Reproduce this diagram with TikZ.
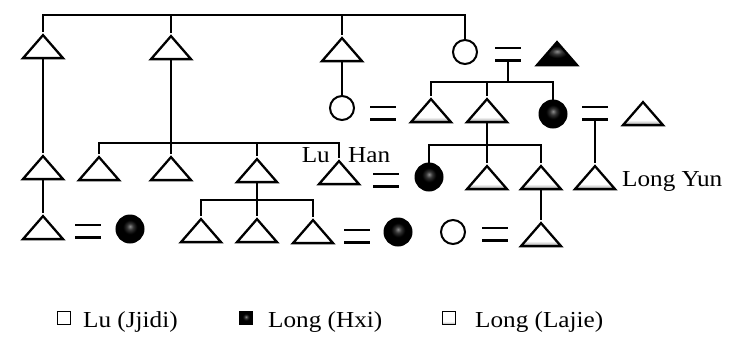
\documentclass[tikz,border=0pt]{standalone}
\usepackage{fontspec}
\setmainfont{Liberation Serif}[FakeStretch=1.1]
\usetikzlibrary{shapes.geometric}
\pgfdeclareradialshading{hxishade}{\pgfpoint{0bp}{5bp}}{color(0bp)=(black!45); color(6bp)=(black!80); color(13bp)=(black); color(50bp)=(black)}
\pgfdeclareverticalshading{lajieshade}{100bp}{color(0bp)=(black!40); color(25bp)=(black!40); color(36bp)=(white); color(100bp)=(white)}
\begin{document}
\begin{tikzpicture}[x=1bp,y=-1bp,
  tri/.style={isosceles triangle, isosceles triangle stretches, shape border rotate=90,
    minimum width=40bp, minimum height=23bp, inner sep=0pt, draw, line width=2.3bp, fill=white},
  circ/.style={circle, draw, line width=2bp, minimum size=24bp, inner sep=0pt, fill=white},
  fcirc/.style={circ, minimum size=27bp, hxi},
  hxi/.style={shading=hxishade},
  lajie/.style={shading=lajieshade},
  eqs/.style={minimum width=25bp, minimum height=12bp, inner sep=0pt,
    append after command={(\tikzlastnode.north west) edge[line width=2.6bp] (\tikzlastnode.north east)
      (\tikzlastnode.south west) edge[line width=2.6bp] (\tikzlastnode.south east)}},
  link/.style={line width=1.8bp},
  legbox/.style={rectangle, draw, line width=1bp, minimum size=13bp, inner sep=0pt},
  lbl/.style={inner sep=0pt, font=\fontsize{23}{27}\selectfont}
]
\useasboundingbox (0,0) rectangle (731,341);
\coordinate (s1) at (0,15);
\coordinate (s2) at (0,82);
\coordinate (s3) at (0,143);
\coordinate (s3b) at (0,145);
\coordinate (s4) at (0,200);
% row 1
\node[tri] (a1) at (43,49) {};
\node[tri] (a2) at (171,50) {};
\node[tri] (a3) at (342,52) {};
\node[circ] (a4) at (465,52) {};
\node[eqs] (e1) at (508,54) {};
\node[tri,hxi] (a5) at (557,56) {};
% row 2
\node[circ] (b1) at (342,108) {};
\node[eqs] (e2) at (383,113) {};
\node[tri,lajie] (b2) at (431,113) {};
\node[tri,lajie] (b3) at (487,113) {};
\node[fcirc] (b4) at (553,114) {};
\node[eqs] (e3) at (595,113) {};
\node[tri,lajie] (b5) at (643,116) {};
% row 3
\node[tri] (c1) at (43,170) {};
\node[tri] (c2) at (99,171) {};
\node[tri] (c3) at (171,171) {};
\node[tri] (c4) at (257,173) {};
\node[tri] (c5) at (339,175) {};
\node[eqs] (e4) at (386,180) {};
\node[fcirc] (c6) at (429,177) {};
\node[tri,lajie] (c7) at (487,180) {};
\node[tri,lajie] (c8) at (541,180) {};
\node[tri,lajie] (c9) at (595,180) {};
\node[lbl, anchor=base east] (lu) at (330,162) {Lu};
\node[lbl, anchor=base west] (han) at (348,162) {Han};
\node[lbl, anchor=base west] (ly) at (622,186) {Long Yun};
% row 4
\node[tri] (d1) at (43,230) {};
\node[eqs] (e5) at (88,231) {};
\node[fcirc] (d2) at (130,229) {};
\node[tri] (d3) at (201,233) {};
\node[tri] (d4) at (257,233) {};
\node[tri] (d5) at (313,234) {};
\node[eqs] (e6) at (357,236) {};
\node[fcirc] (d6) at (398,232) {};
\node[circ] (d7) at (453,232) {};
\node[eqs] (e7) at (495,234) {};
\node[tri,lajie] (d8) at (541,237) {};
% connectors
\draw[link] (a1.apex) |- (a4.north |- s1) -- (a4.north);
\draw[link] (a2.apex) -- (a2.apex |- s1);
\draw[link] (a3.apex) -- (a3.apex |- s1);
\draw[link] (a3.lower side) -- (b1.north);
\draw[link] (e1.south) -- (e1.south |- s2);
\draw[link] (b2.apex) |- (b4.north |- s2) -- (b4.north);
\draw[link] (b3.apex) -- (b3.apex |- s2);
\draw[link] (a1.lower side) -- (c1.apex);
\draw[link] (c2.apex) |- (c5.apex |- s3) -- (c5.apex);
\draw[link] (a2.lower side) -- (c3.apex);
\draw[link] (c4.apex) -- (c4.apex |- s3);
\draw[link] (c6.north) |- (c8.apex |- s3b) -- (c8.apex);
\draw[link] (b3.lower side) -- (c7.apex);
\draw[link] (e3.south) -- (c9.apex);
\draw[link] (c1.lower side) -- (d1.apex);
\draw[link] (d3.apex) |- (d5.apex |- s4) -- (d5.apex);
\draw[link] (c4.lower side) -- (d4.apex);
\draw[link] (c8.lower side) -- (d8.apex);
% legend
\node[legbox] (l1) at (64,318) {};
\node[lbl, anchor=base west] (t1) at (83,327) {Lu (Jjidi)};
\node[legbox,hxi] (l2) at (246,318) {};
\node[lbl, anchor=base west] (t2) at (268,327) {Long (Hxi)};
\node[legbox,lajie] (l3) at (449,318) {};
\node[lbl, anchor=base west] (t3) at (475,327) {Long (Lajie)};
\end{tikzpicture}
\end{document}
